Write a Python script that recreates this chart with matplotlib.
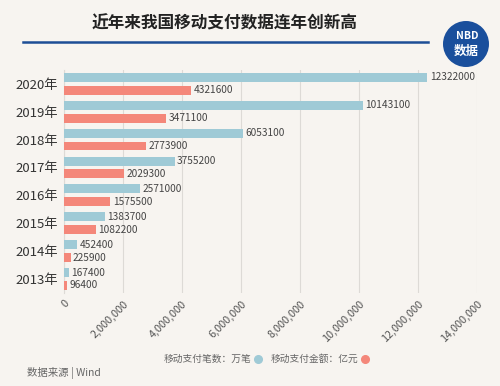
import matplotlib.pyplot as plt
from matplotlib.patches import Ellipse
from matplotlib.lines import Line2D
from matplotlib.ticker import FuncFormatter

plt.rcParams['font.family'] = ['Noto Sans CJK SC', 'DejaVu Sans']

# data
years = ["2013年", "2014年", "2015年", "2016年", "2017年", "2018年", "2019年", "2020年"]
counts = [167400, 452400, 1383700, 2571000, 3755200, 6053100, 10143100, 12322000]   # 万笔
amounts = [96400, 225900, 1082200, 1575500, 2029300, 2773900, 3471100, 4321600]     # 亿元
xticks = [0, 2000000, 4000000, 6000000, 8000000, 10000000, 12000000, 14000000]

bg = "#f7f4f0"
blue = "#9fcad6"
red = "#f4877a"

fig = plt.figure(figsize=(5, 3.86), dpi=100, facecolor=bg)
ax = fig.add_axes([0.128, 0.241, 0.826, 0.578], facecolor=bg)

pos = list(range(len(years)))
h = 0.32
ax.barh([p + 0.23 for p in pos], counts, height=h, color=blue, zorder=3)
ax.barh([p - 0.23 for p in pos], amounts, height=h, color=red, zorder=3)

for p, v in zip(pos, counts):
    ax.text(v + 80000, p + 0.23, str(v), va="center", ha="left", fontsize=7.3, color="#444")
for p, v in zip(pos, amounts):
    ax.text(v + 80000, p - 0.23, str(v), va="center", ha="left", fontsize=7.3, color="#444")

ax.set_xlim(0, 14000000)
ax.set_ylim(-0.5, 7.5)
ax.set_yticks(pos)
ax.set_yticklabels(years, fontsize=9.5, color="#333")
ax.set_xticks(xticks)
ax.xaxis.set_major_formatter(FuncFormatter(lambda v, _: f"{int(v):,}"))
plt.setp(ax.get_xticklabels(), rotation=45, ha="right", rotation_mode="anchor",
         fontsize=7.8, color="#555")
ax.tick_params(length=0, pad=4)
ax.grid(axis="x", color="#dddad6", linewidth=0.8, zorder=0)
for s in ["top", "right", "bottom"]:
    ax.spines[s].set_visible(False)
ax.spines["left"].set_color("#dddad6")

# title and line
fig.text(0.45, 0.938, "近年来我国移动支付数据连年创新高", ha="center", va="center",
         fontsize=12, fontweight="bold", color="#222")
fig.add_artist(Line2D([0.046, 0.856], [0.891, 0.891], color="#1d4e96", linewidth=1.8))

# logo
fig.patches.append(Ellipse((0.932, 0.886), 46 / 500, 46 / 386, transform=fig.transFigure,
                           facecolor="#1a4f9c", edgecolor="none"))
fig.text(0.934, 0.908, "NBD", ha="center", va="center", fontsize=7.5, fontweight="bold", color="white")
fig.text(0.932, 0.868, "数据", ha="center", va="center", fontsize=9, fontweight="bold", color="white")

# legend
fig.text(0.328, 0.07, "移动支付笔数：万笔", ha="left", va="center", fontsize=7, color="#666")
fig.add_artist(Line2D([0.516], [0.07], marker="o", markersize=5.5, color=blue, linestyle="none"))
fig.text(0.542, 0.07, "移动支付金额：亿元", ha="left", va="center", fontsize=7, color="#666")
fig.add_artist(Line2D([0.73], [0.07], marker="o", markersize=5.5, color=red, linestyle="none"))

fig.text(0.054, 0.034, "数据来源 | Wind", ha="left", va="center", fontsize=7.5, color="#666")

fig.savefig("out.png", dpi=100, facecolor=bg)
